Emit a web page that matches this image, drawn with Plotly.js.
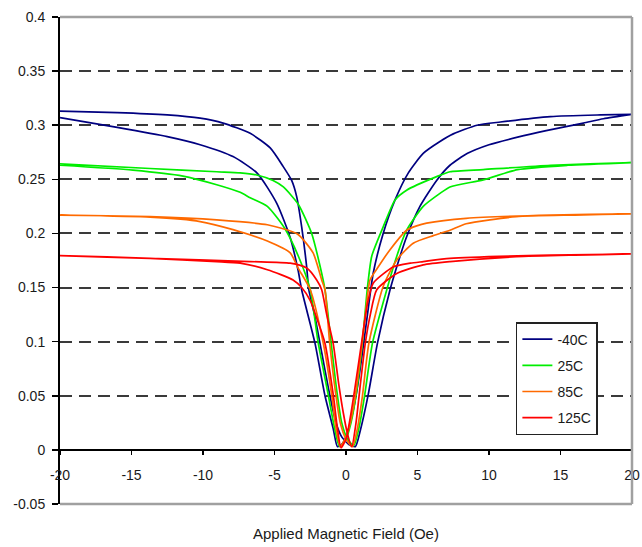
<!DOCTYPE html>
<html>
<head>
<meta charset="utf-8">
<script src="https://cdn.plot.ly/plotly-3.0.1.min.js"></script>
<style>
  html, body { margin: 0; padding: 0; background: #ffffff; }
  #chart { width: 642px; height: 547px; }
</style>
</head>
<body>
<div id="chart"></div>
<script>
// ---- Data (field in Oe, response) ----
// Each temperature: "up" branch (swept -20 -> +20) and "down" branch (swept +20 -> -20)
const seriesNames = ["-40C", "25C", "85C", "125C"];

const xUpM40 = [-20,-16,-12.5,-10.2,-8.6,-6.7,-5.3,-4.4,-3.8,-3.45,-3.1,-2.75,-2.6,-2.2,-1.7,-1.2,-0.7,-0.3,0.2,0.65,1.0,1.55,2.2,3.08,3.78,4.24,5.17,6.34,7.27,8.5,10,12,14,16.6,18,20];
const yUpM40 = [0.313,0.3117,0.3095,0.3065,0.302,0.2925,0.279,0.262,0.249,0.234,0.206,0.169,0.148,0.125,0.09,0.055,0.025,0.012,0.005,0.003,0.018,0.0508,0.0986,0.148,0.179,0.197,0.225,0.249,0.263,0.274,0.282,0.289,0.295,0.302,0.306,0.31];
const xDnM40 = [20,17.8,14.3,10.8,9.16,7.5,6.57,5.4,4.36,3.43,2.6,1.9,1.5,1.1,0.7,0.3,0,-0.3,-0.6,-0.9,-1.47,-2.17,-3.1,-3.35,-3.9,-4.85,-6.2,-7.9,-10.2,-12.5,-16,-20];
const yDnM40 = [0.31,0.3095,0.308,0.303,0.30,0.292,0.285,0.274,0.256,0.231,0.2,0.163,0.125,0.085,0.05,0.025,0.012,0.005,0.003,0.02,0.05,0.0986,0.148,0.166,0.196,0.228,0.2555,0.271,0.282,0.2895,0.298,0.307];

const xUp25 = [-20,-13.7,-9.04,-7.4,-6.24,-5.1,-4.38,-3.34,-2.4,-1.8,-1.47,-1.05,-0.65,-0.3,0.1,0.55,0.9,1.3,1.85,2.85,3.55,4.24,5.4,6.57,7.27,9.6,12,15.5,20];
const yUp25 = [0.2643,0.260,0.257,0.256,0.254,0.249,0.243,0.227,0.2,0.169,0.148,0.1,0.055,0.025,0.01,0.004,0.02,0.05,0.0986,0.148,0.179,0.203,0.225,0.237,0.243,0.2495,0.259,0.263,0.2655];
const xDn25 = [20,14.3,9.6,7.27,6.34,4.24,3.43,2.6,1.8,1.5,1.15,0.75,0.35,0,-0.45,-0.8,-1.24,-1.94,-2.5,-3.3,-4.3,-5.5,-6.7,-7.4,-9.04,-11.4,-14.9,-20];
const yDn25 = [0.2655,0.263,0.259,0.257,0.2525,0.240,0.231,0.206,0.179,0.15,0.1,0.055,0.025,0.01,0.003,0.02,0.0508,0.0986,0.148,0.178,0.205,0.225,0.233,0.238,0.245,0.253,0.2585,0.263];

const xUp85 = [-20,-13.7,-9.04,-5.5,-3.4,-2.3,-1.7,-1.47,-1.15,-0.75,-0.4,0,0.45,0.8,1.15,1.6,2.6,3.55,4.7,6.1,7.27,8.4,11.9,16,20];
const yUp85 = [0.217,0.2155,0.2125,0.208,0.1995,0.182,0.157,0.148,0.1,0.055,0.025,0.01,0.003,0.02,0.05,0.0986,0.151,0.1755,0.191,0.198,0.203,0.209,0.2155,0.217,0.218];
const xDn85 = [20,14.3,8.4,5.64,4.94,4.24,3.08,2.2,1.68,1.4,1.05,0.65,0.3,0,-0.4,-0.7,-1.0,-1.59,-2.5,-3.35,-3.9,-5.5,-7.9,-10.2,-13.7,-20];
const yDn85 = [0.218,0.217,0.214,0.2095,0.207,0.203,0.185,0.168,0.157,0.13,0.09,0.05,0.025,0.012,0.003,0.02,0.0508,0.0986,0.148,0.168,0.182,0.193,0.2035,0.211,0.215,0.217];

const xUp125 = [-20,-13.7,-6.7,-3.9,-2.75,-2.05,-1.7,-1.35,-0.9,-0.5,-0.2,0.1,0.4,0.7,1.0,1.35,1.7,2.15,3.55,5.4,7.27,11.9,16,20];
const yUp125 = [0.1795,0.177,0.174,0.1725,0.168,0.157,0.148,0.125,0.0986,0.06,0.035,0.015,0.003,0.025,0.06,0.0986,0.125,0.148,0.163,0.171,0.174,0.1785,0.18,0.181];
const xDn125 = [20,14.3,7.27,5.4,4.5,3.3,1.9,1.5,1.1,0.6,0.3,0,-0.35,-0.6,-0.89,-1.47,-2.0,-2.5,-3.1,-3.7,-5.5,-7.4,-9.04,-13.7,-20];
const yDn125 = [0.181,0.180,0.177,0.174,0.1725,0.169,0.154,0.135,0.1,0.055,0.03,0.01,0.002,0.02,0.0508,0.0986,0.12,0.138,0.150,0.157,0.1665,0.1725,0.174,0.177,0.1795];

const xTickVals = [-20,-15,-10,-5,0,5,10,15,20];
const xTickText = ["-20","-15","-10","-5","0","5","10","15","20"];
const yTickVals = [-0.05,0,0.05,0.1,0.15,0.2,0.25,0.3,0.35,0.4];
const yTickText = ["-0.05","0","0.05","0.1","0.15","0.2","0.25","0.3","0.35","0.4"];
const xTitle = "Applied Magnetic Field (Oe)";

// ---- Build traces ----
const colors = ["#000080", "#00ee00", "#ff6a00", "#ff0000"];
const loops = [
  [xUpM40, yUpM40, xDnM40, yDnM40],
  [xUp25, yUp25, xDn25, yDn25],
  [xUp85, yUp85, xDn85, yDn85],
  [xUp125, yUp125, xDn125, yDn125]
];
const traces = loops.map((l, i) => ({
  type: "scatter",
  mode: "lines",
  name: seriesNames[i],
  legendgroup: "g" + i,
  x: l[0].concat(l[2]),
  y: l[1].concat(l[3]),
  line: { color: colors[i], width: 1.7, shape: "spline", smoothing: 0.6 },
  hoverinfo: "skip"
}));

const FONT = "Liberation Sans, Arial, sans-serif";
const layout = {
  width: 642,
  height: 547,
  margin: { l: 60, r: 10, t: 17, b: 43, pad: 0 },
  paper_bgcolor: "#ffffff",
  plot_bgcolor: "#ffffff",
  showlegend: true,
  font: { family: FONT, size: 14, color: "#1a1a1a" },
  xaxis: {
    range: [-20, 20],
    tickmode: "array",
    tickvals: xTickVals,
    ticktext: xTickText,
    anchor: "free",
    position: 0.05 / 0.45,
    showline: true,
    linecolor: "#000",
    linewidth: 2,
    ticks: "outside",
    ticklen: 4,
    tickwidth: 1.5,
    tickcolor: "#000",
    showgrid: false,
    zeroline: false,
    ticklabelstandoff: 8,
    tickfont: { family: FONT, size: 14, color: "#1a1a1a" }
  },
  yaxis: {
    range: [-0.05, 0.4],
    tickmode: "array",
    tickvals: yTickVals,
    ticktext: yTickText,
    showline: true,
    linecolor: "#000",
    linewidth: 2,
    ticks: "outside",
    ticklen: 6,
    tickwidth: 1.5,
    tickcolor: "#000",
    showgrid: true,
    gridcolor: "#3a3a3a",
    gridwidth: 2,
    griddash: "12px,7px",
    zeroline: false,
    ticklabelstandoff: 4,
    tickfont: { family: FONT, size: 14, color: "#1a1a1a" }
  },
  legend: {
    x: 0.797,
    y: 0.3737,
    xanchor: "left",
    yanchor: "top",
    bgcolor: "#ffffff",
    bordercolor: "#222",
    borderwidth: 1.5,
    traceorder: "grouped",
    tracegroupgap: 5,
    font: { family: FONT, size: 14, color: "#1a1a1a" }
  },
  shapes: [
    { type: "line", xref: "paper", yref: "paper", x0: 0, x1: 1, y0: 1, y1: 1, line: { color: "#a0a0a0", width: 2.5 }, layer: "above" },
    { type: "line", xref: "paper", yref: "paper", x0: 1, x1: 1, y0: 0, y1: 1, line: { color: "#a0a0a0", width: 2.5 }, layer: "above" },
    { type: "line", xref: "paper", yref: "paper", x0: 0, x1: 1, y0: 0, y1: 0, line: { color: "#a0a0a0", width: 2.5 }, layer: "above" }
  ],
  annotations: [
    {
      text: xTitle,
      xref: "x", x: 0,
      yref: "paper", y: -29 / 487,
      xanchor: "center", yanchor: "middle",
      showarrow: false,
      font: { family: FONT, size: 15, color: "#1a1a1a" }
    }
  ]
};

Plotly.newPlot("chart", traces, layout, { staticPlot: true, displayModeBar: false });
</script>
</body>
</html>
